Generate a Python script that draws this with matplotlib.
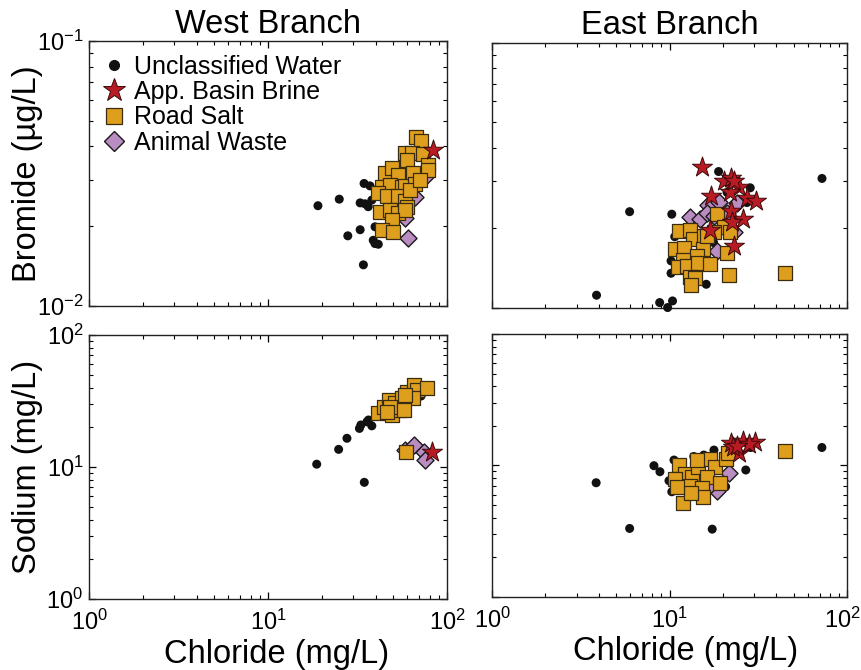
import matplotlib
matplotlib.use('Agg')
import matplotlib.pyplot as plt
from matplotlib.ticker import LogLocator, NullFormatter
from matplotlib.lines import Line2D
from matplotlib.transforms import ScaledTranslation

plt.rcParams['font.family'] = ['Liberation Sans', 'DejaVu Sans']
plt.rcParams['mathtext.fontset'] = 'custom'
plt.rcParams['mathtext.rm'] = 'Liberation Sans'

# ---- West Branch, bromide vs chloride ----
wb_unc_cl = [19.0, 25.0, 27.9, 32.7, 34.1, 34.4, 37.1, 32.7, 34.8, 36.3, 38.0, 39.6, 41.3, 38.7, 39.6, 42.2]
wb_unc_br = [0.0239, 0.0253, 0.0184, 0.0194, 0.0143, 0.0290, 0.0284, 0.0245, 0.0243, 0.0237, 0.0251, 0.0172, 0.0171, 0.0177, 0.0199, 0.0282]
wb_salt_cl = [67.1, 71.3, 58.2, 63.5, 59.6, 73.7, 45.1, 49.1, 53.5, 64.9, 78.7, 78.7, 43.2, 48.1, 55.8,
              58.2, 66.2, 41.3, 46.0, 53.5, 58.2, 59.6, 42.2, 48.1, 53.5, 58.2, 49.1, 43.2, 50.1, 62.1, 70.6]
wb_salt_br = [0.0435, 0.0421, 0.0377, 0.0377, 0.0356, 0.0375, 0.0317, 0.0331, 0.0312, 0.0317, 0.0340, 0.0326, 0.0282, 0.0286, 0.0282,
              0.0284, 0.0288, 0.0266, 0.0259, 0.0259, 0.0248, 0.0237, 0.0227, 0.0230, 0.0224, 0.0230, 0.0211, 0.0194, 0.0191, 0.0274, 0.0299]
wb_anim_cl = [66.2, 75.4, 60.8, 58.2]
wb_anim_br = [0.0257, 0.0308, 0.0180, 0.0214]
wb_brine_cl = [83.2]
wb_brine_br = [0.0388]

# ---- East Branch, bromide vs chloride ----
eb_unc_cl = [3.88, 5.96, 8.80, 9.76, 10.4, 10.3, 10.7, 10.2, 10.2, 16.1, 18.9, 28.5, 27.3, 72.3, 21.1, 17.7]
eb_unc_br = [0.01113, 0.0230, 0.01044, 0.0100, 0.01059, 0.0225, 0.0185, 0.0150, 0.01347, 0.01224, 0.0326, 0.0283, 0.0249, 0.0307, 0.0272, 0.0176]
eb_brine_cl = [15.2, 20.2, 22.2, 24.5, 21.8, 27.3, 30.7, 17.1, 22.2, 25.9, 22.5, 16.9, 23.0, 23.0]
eb_brine_br = [0.0339, 0.0300, 0.0309, 0.0286, 0.0273, 0.0260, 0.0253, 0.0264, 0.0232, 0.0215, 0.0210, 0.0197, 0.0170, 0.0300]
eb_anim_cl = [13.0, 14.9, 16.4, 18.9, 21.1, 24.0, 20.6, 23.0, 18.5, 16.3, 17.7]
eb_anim_br = [0.0220, 0.0215, 0.0243, 0.0250, 0.0228, 0.0248, 0.0200, 0.0192, 0.0164, 0.0228, 0.0222]
eb_salt_cl = [11.3, 13.1, 13.6, 15.6, 18.5, 20.2, 22.0, 10.8, 12.1, 15.4, 14.3, 11.9, 11.2, 12.6, 14.5,
              16.9, 13.1, 14.0, 13.2, 21.5, 44.9, 17.7, 21.1, 16.3]
eb_salt_br = [0.0195, 0.0197, 0.0182, 0.0186, 0.0225, 0.0202, 0.0192, 0.0167, 0.0168, 0.0166, 0.0157, 0.0151, 0.0142, 0.0144, 0.0147,
              0.0146, 0.0130, 0.0129, 0.01214, 0.0133, 0.01347, 0.0192, 0.0161, 0.0186]

# ---- West Branch, sodium vs chloride ----
ws_unc_cl = [18.7, 24.8, 27.6, 32.4, 33.0, 34.5, 35.7, 38.0, 36.4, 71.6, 42.4, 44.2]
ws_unc_na = [10.5, 13.6, 16.5, 19.6, 20.8, 7.65, 22.0, 20.5, 22.7, 34.5, 25.2, 27.0]
ws_salt_cl = [41.4, 44.2, 47.1, 49.2, 53.6, 51.4, 56.0, 59.7, 65.0, 67.9, 77.3, 64.4, 58.4, 48.2, 46.2, 57.2, 59.2]
ws_salt_na = [25.8, 28.6, 32.2, 24.8, 27.0, 30.4, 33.1, 37.2, 41.8, 38.3, 39.4, 33.1, 35.1, 28.6, 26.2, 27.0, 13.1]
ws_anim_cl = [58.4, 65.0, 74.0, 75.6]
ws_anim_na = [13.4, 14.7, 13.1, 11.3]
ws_brine_cl = [82.4]
ws_brine_na = [13.1]

# ---- East Branch, sodium vs chloride ----
es_unc_cl = [3.86, 5.96, 17.4, 8.17, 8.83, 10.3, 9.93, 10.6, 26.9, 72.2, 28.7, 17.8, 20.7, 13.7, 15.6]
es_unc_na = [7.39, 3.32, 3.28, 9.96, 8.97, 6.31, 7.66, 11.0, 9.24, 13.7, 13.7, 13.1, 6.89, 11.7, 12.0]
es_salt_cl = [11.3, 12.2, 10.8, 13.4, 14.5, 16.9, 18.0, 16.2, 20.9, 21.4, 19.2, 13.0, 15.3, 15.4, 11.9, 13.3, 44.6, 11.0, 14.2]
es_salt_na = [10.1, 8.61, 7.89, 8.13, 9.69, 11.2, 9.69, 8.13, 11.2, 12.5, 7.39, 6.98, 6.70, 5.72, 5.20, 6.21, 13.0, 6.89, 11.0]
es_anim_cl = [21.5, 18.4, 16.9]
es_anim_na = [8.72, 6.39, 7.10]
es_brine_cl = [22.1, 26.1, 30.2, 24.6, 28.1, 22.9, 23.9]
es_brine_na = [14.8, 15.4, 15.0, 12.4, 14.5, 13.9, 14.1]

labels = ['Unclassified Water', 'App. Basin Brine', 'Road Salt', 'Animal Waste']
decade_ticks = [1, 10, 100]

styles = {
    'unc': dict(marker='o', s=42, c='#111111', edgecolors='none'),
    'anim': dict(marker='D', s=75, c='#B98CC2', edgecolors='#1a1a1a', linewidths=1.0),
    'salt': dict(marker='s', s=95, c='#DF9F1E', edgecolors='#3a2c10', linewidths=0.9),
    'brine': dict(marker='*', s=230, c='#B81B23', edgecolors='#3a0a0a', linewidths=0.7),
}

fig = plt.figure(figsize=(8.62, 6.70), dpi=100)
ax_tl = fig.add_axes([0.1033, 0.5433, 0.4153, 0.3955])
ax_tr = fig.add_axes([0.5708, 0.5410, 0.4118, 0.3955])
ax_bl = fig.add_axes([0.1033, 0.1060, 0.4153, 0.3940])
ax_br = fig.add_axes([0.5708, 0.1090, 0.4118, 0.3925])

panels = [
    (ax_tl, [(wb_unc_cl, wb_unc_br, 'unc'), (wb_anim_cl, wb_anim_br, 'anim'),
             (wb_salt_cl, wb_salt_br, 'salt'), (wb_brine_cl, wb_brine_br, 'brine')], (0.01, 0.1)),
    (ax_tr, [(eb_unc_cl, eb_unc_br, 'unc'), (eb_anim_cl, eb_anim_br, 'anim'),
             (eb_salt_cl, eb_salt_br, 'salt'), (eb_brine_cl, eb_brine_br, 'brine')], (0.01, 0.1)),
    (ax_bl, [(ws_unc_cl, ws_unc_na, 'unc'), (ws_anim_cl, ws_anim_na, 'anim'),
             (ws_salt_cl, ws_salt_na, 'salt'), (ws_brine_cl, ws_brine_na, 'brine')], (1, 100)),
    (ax_br, [(es_unc_cl, es_unc_na, 'unc'), (es_anim_cl, es_anim_na, 'anim'),
             (es_salt_cl, es_salt_na, 'salt'), (es_brine_cl, es_brine_na, 'brine')], (1, 100)),
]

for ax, series, ylim in panels:
    for xs, ys, key in series:
        ax.scatter(xs, ys, clip_on=False, zorder=3, **styles[key])
    ax.set_xscale('log')
    ax.set_yscale('log')
    ax.set_xlim(1, 100)
    ax.set_ylim(*ylim)
    for a in (ax.xaxis, ax.yaxis):
        a.set_major_locator(LogLocator(base=10, numticks=10))
        a.set_minor_locator(LogLocator(base=10, subs=range(2, 10), numticks=20))
        a.set_minor_formatter(NullFormatter())
    ax.tick_params(which='both', direction='in', top=True, right=True, labelsize=17)
    ax.tick_params(axis='x', which='both', pad=8)
    ax.tick_params(axis='y', which='both', pad=4)
    ax.tick_params(which='major', length=5, width=0.9)
    ax.tick_params(which='minor', length=3, width=0.8)
    for sp in ax.spines.values():
        sp.set_color('#222222')
        sp.set_linewidth(1.0)

ax_tl.tick_params(labelbottom=False)
ax_tr.tick_params(labelbottom=False, labelleft=False)
ax_br.tick_params(labelleft=False)

# keep the last x tick label of the right panel inside the figure
ax_br.set_xticks(decade_ticks)
last_tick = ax_br.xaxis.get_major_ticks()[-1]
last_tick.label1.set_transform(last_tick.label1.get_transform()
                               + ScaledTranslation(-0.05, 0, fig.dpi_scale_trans))

ax_tl.set_title('West Branch', fontsize=23.5, pad=6)
ax_tr.set_title('East Branch', fontsize=23.5, pad=6)
ax_tl.set_ylabel('Bromide (µg/L)', fontsize=23.5)
ax_bl.set_ylabel('Sodium (mg/L)', fontsize=23.5)
ax_bl.set_xlabel('Chloride (mg/L)', fontsize=23.5)
ax_br.set_xlabel('Chloride (mg/L)', fontsize=23.5)
ax_tl.yaxis.set_label_coords(-0.128, 0.5)
ax_bl.yaxis.set_label_coords(-0.128, 0.5)
ax_bl.xaxis.set_label_coords(0.525, -0.15)
ax_br.xaxis.set_label_coords(0.545, -0.15)

handles = [
    Line2D([], [], linestyle='none', marker='o', markersize=7, color='#111111'),
    Line2D([], [], linestyle='none', marker='*', markersize=17, markerfacecolor='#B81B23', markeredgecolor='#3a0a0a', markeredgewidth=0.7),
    Line2D([], [], linestyle='none', marker='s', markersize=11, markerfacecolor='#DF9F1E', markeredgecolor='#3a2c10', markeredgewidth=0.9),
    Line2D([], [], linestyle='none', marker='D', markersize=10, markerfacecolor='#B98CC2', markeredgecolor='#1a1a1a', markeredgewidth=1.0),
]
ax_tl.legend(handles, labels, loc='upper left', frameon=False, fontsize=18,
             labelspacing=0.05, handletextpad=0.35, handlelength=0.9, borderaxespad=0.15)

fig.savefig('out.png', dpi=100)
